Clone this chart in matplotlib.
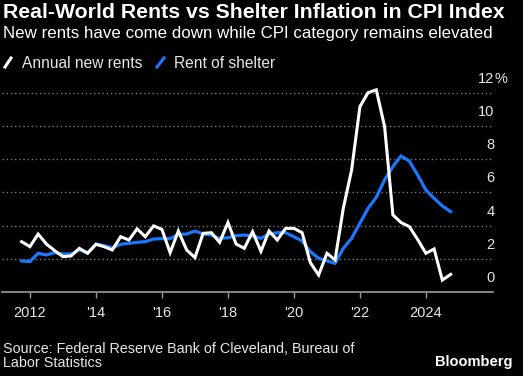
import numpy as np
import pandas as pd
import matplotlib
matplotlib.use("Agg")
import matplotlib.pyplot as plt
from matplotlib.lines import Line2D
from matplotlib.transforms import blended_transform_factory, offset_copy

# --- data (quarterly) ---
dates = pd.date_range("2011-09-30", periods=53, freq="QE")

new_rents = [3.03, 2.73, 3.49, 2.89, 2.49, 2.13, 2.17, 2.63, 2.33, 2.87,
             2.73, 2.53, 3.33, 3.13, 3.80, 3.33, 3.98, 3.77, 2.37, 3.67,
             2.53, 2.07, 3.53, 3.57, 2.99, 4.18, 2.89, 2.63, 3.63, 2.45,
             3.67, 3.13, 3.83, 3.83, 3.57, 1.77, 1.02, 2.33, 1.93, 5.04,
             7.35, 11.16, 12.00, 12.17, 9.96, 4.64, 4.18, 3.94, 3.17, 2.33,
             2.59, 0.72, 1.06]

shelter = [1.87, 1.83, 2.33, 2.23, 2.37, 2.29, 2.29, 2.53, 2.37, 2.89,
           2.79, 2.67, 2.87, 2.93, 2.99, 3.03, 3.19, 3.21, 3.21, 3.47,
           3.49, 3.67, 3.49, 3.43, 3.23, 3.27, 3.39, 3.43, 3.37, 3.23,
           3.49, 3.57, 3.57, 3.33, 3.07, 2.43, 2.03, 1.87, 1.73, 2.63,
           3.23, 4.14, 5.04, 5.70, 6.75, 7.55, 8.19, 7.89, 7.05, 6.14,
           5.64, 5.18, 4.84]

tick_years = [2012, 2014, 2016, 2018, 2020, 2022, 2024]
tick_labels = ["2012", "'14", "'16", "'18", "'20", "'22", "2024"]
y_ticks = [0, 2, 4, 6, 8, 10, 12]

# --- style ---
W, H = 523, 376
BG = "black"
WHITE = "white"
BLUE = "#1a78ff"
GRID = "#7a7a7a"
TXT = "#e6e6e6"
plt.rcParams["font.family"] = ["Liberation Sans", "DejaVu Sans"]

fig = plt.figure(figsize=(W / 100, H / 100), dpi=100, facecolor=BG)
ax = fig.add_axes([2 / W, 1 - 292 / H, (493 - 2) / W, (292 - 86) / H])
ax.set_facecolor(BG)

ax.plot(dates, shelter, color=BLUE, lw=2.3, solid_joinstyle="miter", zorder=3)
ax.plot(dates, new_rents, color=WHITE, lw=2.2, solid_joinstyle="miter", zorder=4)

ax.set_ylim(0, 12.4)
ax.set_xlim(pd.Timestamp("2011-02-25"), pd.Timestamp("2026-01-12"))

for v in y_ticks[1:]:
    ax.axhline(v, color=GRID, lw=1, ls=(0, (1, 2)), zorder=1)

for s in ["top", "right", "left"]:
    ax.spines[s].set_visible(False)
ax.spines["bottom"].set_color("#9a9a9a")
ax.spines["bottom"].set_linewidth(1.2)

ax.set_xticks([pd.Timestamp(f"{y}-01-01") for y in tick_years])
ax.set_xticklabels(tick_labels)
ax.tick_params(axis="x", direction="out", length=4, width=1, color="#9a9a9a",
               labelcolor=TXT, labelsize=10.5, pad=6)
ax.set_yticks([])

# right-side y labels sitting above their gridlines
tr = offset_copy(blended_transform_factory(fig.transFigure, ax.transData),
                 fig=fig, x=0, y=10, units="dots")
for v in y_ticks:
    ax.text(494.5 / W, v, str(v), transform=tr, ha="right", va="baseline",
            color=TXT, fontsize=10.5)
ax.text(494.5 / W, 12, "%", transform=tr, ha="left", va="baseline",
        color=TXT, fontsize=10.5)

# --- titles ---
fig.text(3 / W, 1 - 18 / H, "Real-World Rents vs Shelter Inflation in CPI Index",
         color=WHITE, fontsize=15.3, fontweight="bold", va="baseline", ha="left")
fig.text(3 / W, 1 - 38 / H, "New rents have come down while CPI category remains elevated",
         color=WHITE, fontsize=12.2, va="baseline", ha="left")

# --- legend ---
fig.add_artist(Line2D([5 / W, 11 / W], [1 - 67 / H, 1 - 58 / H], color=WHITE,
                      lw=2.2, transform=fig.transFigure))
fig.text(22 / W, 1 - 68 / H, "Annual new rents", color=TXT, fontsize=11.2,
         va="baseline", ha="left")
fig.add_artist(Line2D([157 / W, 164 / W], [1 - 67 / H, 1 - 58 / H], color=BLUE,
                      lw=2.2, transform=fig.transFigure))
fig.text(174 / W, 1 - 68 / H, "Rent of shelter", color=TXT, fontsize=11.2,
         va="baseline", ha="left")

# --- footer ---
fig.text(3 / W, 1 - 353 / H, "Source: Federal Reserve Bank of Cleveland, Bureau of",
         color=TXT, fontsize=10.4, va="baseline", ha="left")
fig.text(3 / W, 1 - 367 / H, "Labor Statistics", color=TXT, fontsize=10.4,
         va="baseline", ha="left")
fig.text(512 / W, 1 - 366 / H, "Bloomberg", color=WHITE, fontsize=10.5,
         fontweight="bold", va="baseline", ha="right")

fig.savefig("out.png", dpi=100, facecolor=BG)
